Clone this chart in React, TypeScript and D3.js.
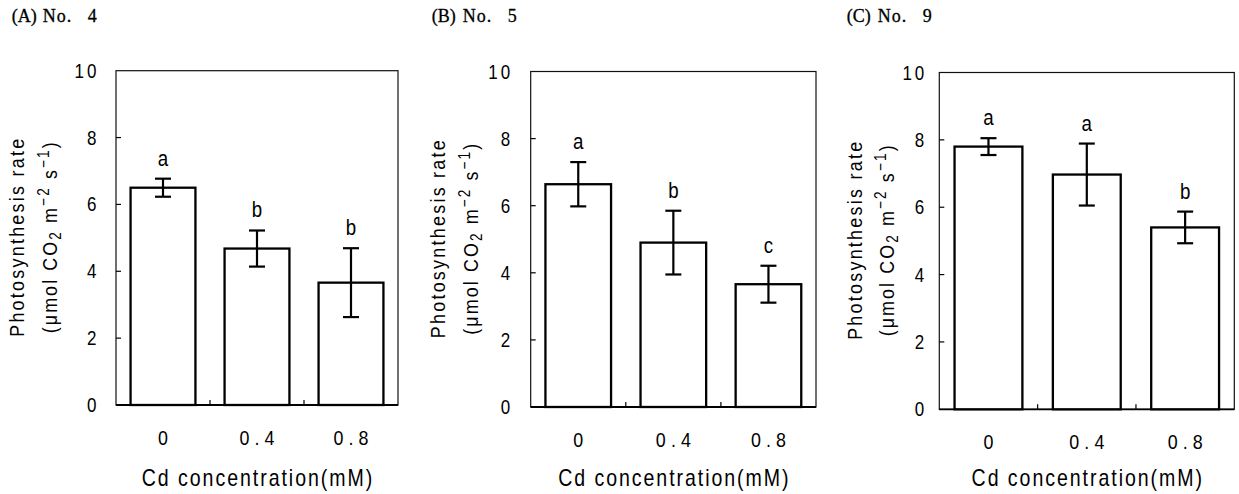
import React from 'react';
import * as d3 from 'd3';

// ---------- data ----------
const categories = ['0', '0.4', '0.8'];
const panelLabels = ['(A)', '(B)', '(C)'];
const cultivarNames = ['No.', 'No.', 'No.'];
const cultivarNumbers = ['4', '5', '9'];

const meansA = [6.5, 4.68, 3.66];
const errA = [0.27, 0.54, 1.03];
const lettersA = ['a', 'b', 'b'];

const meansB = [6.64, 4.9, 3.66];
const errB = [0.66, 0.95, 0.55];
const lettersB = ['a', 'b', 'c'];

const meansC = [7.8, 6.97, 5.4];
const errC = [0.25, 0.92, 0.47];
const lettersC = ['a', 'a', 'b'];

const yTicks = [0, 2, 4, 6, 8, 10];
const xTitle = 'Cd concentration(mM)';
const yTitle1 = 'Photosynthesis rate';

// ---------- layout ----------
const layouts = [
  { left: 116, right: 398, top: 70.7, bottom: 405, titleX: 11.7, yLab1: 92, yLab2: 59, tickGap: 19.5 },
  { left: 530.7, right: 816, top: 71.5, bottom: 407, titleX: 431.7, yLab1: 85.7, yLab2: 52.7, tickGap: 20.5 },
  { left: 939.3, right: 1234.3, top: 72.5, bottom: 409.3, titleX: 846.7, yLab1: 77.6, yLab2: 45.3, tickGap: 15 },
];

const panels = [
  { means: meansA, errs: errA, letters: lettersA },
  { means: meansB, errs: errB, letters: lettersB },
  { means: meansC, errs: errC, letters: lettersC },
];

const SANS = '"Liberation Sans", Arial, sans-serif';
const SERIF = '"Liberation Serif", "Times New Roman", serif';
const SQ = 0.85; // horizontal squeeze to mimic the narrow original typeface

function SText({ x, y, anchor = 'start', size, ls = 0, rot = 0, children }: any) {
  // compensate trailing letter-spacing for end/middle anchors
  const shift = anchor === 'end' ? ls : anchor === 'middle' ? ls / 2 : 0;
  return (
    <text
      transform={`translate(${x},${y}) rotate(${rot}) scale(${SQ},1)`}
      x={shift}
      y={0}
      textAnchor={anchor}
      fontFamily={SANS}
      fontSize={size}
      letterSpacing={ls}
      fill="#000"
    >
      {children}
    </text>
  );
}

function Panel({ idx }: { idx: number }) {
  const L = layouts[idx];
  const P = panels[idx];
  const x = d3.scaleBand<string>().domain(categories).range([L.left, L.right]).paddingInner(0.31).paddingOuter(0.155);
  const y = d3.scaleLinear().domain([0, 10]).range([L.bottom, L.top]);
  const bw = x.bandwidth();
  const step = x.step();
  const midY = (L.top + L.bottom) / 2;
  const midX = (L.left + L.right) / 2;
  const cap = 8;
  return (
    <g>
      {/* panel title */}
      <text x={L.titleX} y={22} fontFamily={SERIF} fontSize={18} fill="#000" stroke="#000" strokeWidth={0.3}>
        <tspan x={L.titleX}>{panelLabels[idx]}</tspan>
        <tspan x={L.titleX + 31} letterSpacing={1}>{cultivarNames[idx]}</tspan>
        <tspan x={L.titleX + 76}>{cultivarNumbers[idx]}</tspan>
      </text>

      {/* frame */}
      <rect x={L.left} y={L.top} width={L.right - L.left} height={L.bottom - L.top} fill="none" stroke="#111" strokeWidth={1.2} />
      <line x1={L.left} x2={L.right} y1={L.bottom} y2={L.bottom} stroke="#000" strokeWidth={1.8} />

      {/* y ticks */}
      {yTicks.map((t) => (
        <g key={t}>
          {t > 0 && t < 10 && (
            <line x1={L.left} x2={L.left + 5} y1={y(t)} y2={y(t)} stroke="#000" strokeWidth={1.2} />
          )}
          <SText x={L.left - L.tickGap} y={y(t) + 7} anchor="end" size={20} ls={3.5}>
            {t}
          </SText>
        </g>
      ))}

      {/* x small ticks between bars */}
      {categories.slice(1).map((c) => (
        <line key={c} x1={(x(c) as number) - (step - bw) / 2} x2={(x(c) as number) - (step - bw) / 2} y1={L.bottom} y2={L.bottom - 5} stroke="#000" strokeWidth={1.2} />
      ))}

      {/* bars */}
      {categories.map((c, i) => {
        const x0 = x(c) as number;
        const cx = x0 + bw / 2;
        const m = P.means[i];
        const e = P.errs[i];
        return (
          <g key={c}>
            <rect x={x0} y={y(m)} width={bw} height={y(0) - y(m)} fill="#fff" stroke="#000" strokeWidth={2.3} />
            <line x1={cx} x2={cx} y1={y(m + e)} y2={y(m - e)} stroke="#000" strokeWidth={2.2} />
            <line x1={cx - cap} x2={cx + cap} y1={y(m + e)} y2={y(m + e)} stroke="#000" strokeWidth={2.2} />
            <line x1={cx - cap} x2={cx + cap} y1={y(m - e)} y2={y(m - e)} stroke="#000" strokeWidth={2.2} />
            <SText x={cx} y={y(m + e) - 13} anchor="middle" size={22}>
              {P.letters[i]}
            </SText>
            <SText x={cx} y={L.bottom + 40} anchor="middle" size={21} ls={6}>
              {c}
            </SText>
          </g>
        );
      })}

      {/* x title */}
      <SText x={midX} y={486} anchor="middle" size={23} ls={2.3}>
        {xTitle}
      </SText>

      {/* y title */}
      <SText x={L.left - L.yLab1} y={midY} anchor="middle" size={21} ls={2.7} rot={-90}>
        {yTitle1}
      </SText>
      <SText x={L.left - L.yLab2} y={midY} anchor="middle" size={21} ls={2.5} rot={-90}>
        <tspan>(μmol CO</tspan>
        <tspan fontSize={16} dy={4}>2</tspan>
        <tspan dy={-4}> m</tspan>
        <tspan fontSize={16} dy={-8}>−2</tspan>
        <tspan dy={8}> s</tspan>
        <tspan fontSize={16} dy={-8}>−1</tspan>
        <tspan dy={8}>)</tspan>
      </SText>
    </g>
  );
}

export default function App() {
  return (
    <svg
      width={1239}
      height={494}
      style={{ position: 'absolute', left: 0, top: 0, background: '#fff' }}
    >
      <rect x={0} y={0} width={1239} height={494} fill="#fff" />
      {[0, 1, 2].map((i) => (
        <Panel key={i} idx={i} />
      ))}
    </svg>
  );
}
